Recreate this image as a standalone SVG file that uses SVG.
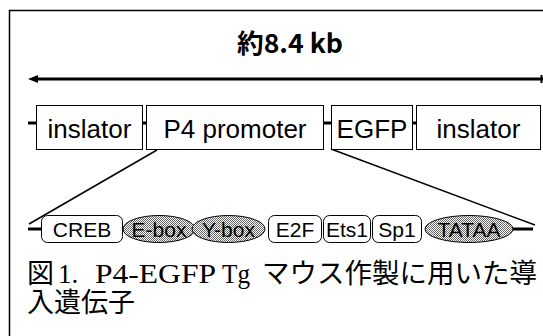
<svg xmlns="http://www.w3.org/2000/svg" width="543" height="336" viewBox="0 0 543 336">
<style>
.box{fill:#fff;stroke:#000;stroke-width:1}
.lbl{font-family:"Liberation Sans",Arial,sans-serif;font-size:26px;fill:#000;text-anchor:middle}
.sl{font-family:"Liberation Sans",Arial,sans-serif;font-size:21px;fill:#000;text-anchor:middle}
.tick{stroke:#000;stroke-width:3}
.ln{stroke:#000;stroke-width:1.5;fill:none}
.ell{fill:url(#chk);stroke:#000;stroke-width:1}
.cap{font-family:"Liberation Serif","Noto Sans CJK JP",serif;font-size:27px;fill:#000}
</style>
<defs>
<pattern id="chk" width="2" height="2" patternUnits="userSpaceOnUse">
<rect width="2" height="2" fill="#fff"/>
<rect width="1" height="1" fill="#666"/>
<rect x="1" y="1" width="1" height="1" fill="#666"/>
</pattern>
</defs>
<rect x="9.5" y="10.5" width="600" height="400" fill="#fff" stroke="#000" stroke-width="1.5"/>
<text x="290" y="53" font-family="'Noto Sans CJK JP',sans-serif" font-weight="bold" font-size="26" text-anchor="middle" textLength="106" lengthAdjust="spacingAndGlyphs">約8.4 kb</text>
<g id="connectors">
<line x1="36" y1="79" x2="543" y2="79" stroke="#000" stroke-width="3"/>
<polygon points="28,79 38,75 38,83" fill="#000"/>
<line x1="541.5" y1="75" x2="541.5" y2="83" stroke="#000" stroke-width="2"/>
<line class="tick" x1="28" y1="123" x2="37" y2="123"/>
<line class="tick" x1="142" y1="123" x2="146" y2="123"/>
<line class="tick" x1="323" y1="123" x2="331" y2="123"/>
<line class="tick" x1="412" y1="123" x2="416" y2="123"/>
<line class="ln" x1="157" y1="150" x2="29" y2="224"/>
<line class="ln" x1="331" y1="149" x2="535" y2="225"/>
<line class="tick" x1="28" y1="229" x2="41" y2="229"/>
<line class="tick" x1="513" y1="229" x2="533" y2="229"/>
</g>
<g id="insulator1"><rect class="box" x="36.5" y="105.5" width="106" height="44"/><text class="lbl" x="89.5" y="138">inslator</text></g>
<g id="p4promoter"><rect class="box" x="146.5" y="105.5" width="177" height="44"/><text class="lbl" x="235" y="138">P4 promoter</text></g>
<g id="egfp"><rect class="box" x="331.5" y="105.5" width="81" height="44"/><text class="lbl" x="372" y="138">EGFP</text></g>
<g id="insulator2"><rect class="box" x="416.5" y="105.5" width="124" height="44"/><text class="lbl" x="478.5" y="138">inslator</text></g>
<g id="creb"><rect class="box" x="41.5" y="215.5" width="81" height="27" rx="6"/><text class="sl" x="82" y="236.5">CREB</text></g>
<g id="ebox"><ellipse class="ell" cx="159" cy="229" rx="36" ry="13.5"/><text class="sl" x="159" y="236.5">E-box</text></g>
<g id="ybox"><ellipse class="ell" cx="228.5" cy="229" rx="36.5" ry="13.5"/><text class="sl" x="228.5" y="236.5">Y-box</text></g>
<g id="e2f"><rect class="box" x="268.5" y="215.5" width="53" height="27" rx="6"/><text class="sl" x="295" y="236.5">E2F</text></g>
<g id="ets1"><rect class="box" x="323.5" y="215.5" width="47" height="27" rx="6"/><text class="sl" x="347" y="236.5">Ets1</text></g>
<g id="sp1"><rect class="box" x="372.5" y="215.5" width="49" height="27" rx="6"/><text class="sl" x="397" y="236.5">Sp1</text></g>
<g id="tataa"><ellipse class="ell" cx="469" cy="229" rx="44" ry="13.5"/><text class="sl" x="469" y="236.5">TATAA</text></g>
<g id="caption">
<text class="cap" y="283"><tspan x="27">図</tspan><tspan x="58">1.</tspan><tspan x="95" textLength="121" lengthAdjust="spacingAndGlyphs">P4-EGFP</tspan><tspan x="222" textLength="28" lengthAdjust="spacingAndGlyphs">Tg</tspan><tspan x="262" textLength="275" lengthAdjust="spacingAndGlyphs">マウス作製に用いた導</tspan></text>
<text class="cap" x="27" y="312">入遺伝子</text>
</g>
</svg>
